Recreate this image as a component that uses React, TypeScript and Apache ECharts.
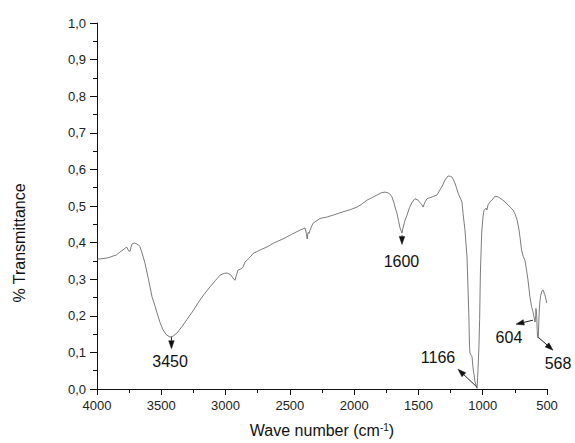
import React, { useEffect, useRef } from "react";
import * as echarts from "echarts";

const wavenumbers = [
  4000, 3960, 3920, 3899, 3870, 3850, 3837, 3815, 3798, 3780, 3767, 3755, 3743, 3735, 3728, 3710, 3689, 3675, 3666, 3650,
  3627, 3600, 3572, 3550, 3533, 3510, 3487, 3460, 3432, 3410, 3378, 3340, 3300, 3250, 3199, 3160, 3121, 3080, 3043, 3010,
  2989, 2960, 2942, 2927, 2915, 2903, 2880, 2864, 2849, 2833, 2800, 2787, 2730, 2678, 2620, 2553, 2490, 2421, 2382, 2372,
  2365, 2359, 2350, 2343, 2320, 2289, 2266, 2210, 2164, 2087, 2030, 1978, 1940, 1900, 1860, 1822, 1790, 1760, 1737, 1720,
  1706, 1690, 1682, 1667, 1655, 1643, 1628, 1620, 1605, 1589, 1570, 1550, 1527, 1503, 1485, 1472, 1464, 1450, 1433, 1394,
  1356, 1332, 1310, 1293, 1270, 1250, 1239, 1216, 1192, 1175, 1161, 1153, 1138, 1122, 1114, 1107, 1103, 1099, 1090, 1083,
  1076, 1060, 1048, 1044, 1037, 1029, 1024, 1018, 1008, 998, 990, 974, 967, 959, 945, 928, 904, 881, 842, 803,
  764, 748, 733, 720, 710, 698, 685, 672, 659, 648, 633, 620, 609, 600, 593, 588, 586, 580, 576, 574,
  568, 564, 560, 555, 549, 541, 535, 529, 522, 516, 508, 502,
];

const transmittance = [
  0.355, 0.356, 0.358, 0.36, 0.364, 0.366, 0.37, 0.376, 0.38, 0.385, 0.387, 0.378, 0.376, 0.388, 0.396, 0.399, 0.396, 0.393, 0.389, 0.372,
  0.344, 0.3, 0.252, 0.228, 0.208, 0.182, 0.162, 0.148, 0.142, 0.144, 0.153, 0.17, 0.19, 0.215, 0.243, 0.262, 0.279, 0.296, 0.311, 0.316,
  0.317, 0.312, 0.303, 0.297, 0.312, 0.325, 0.328, 0.333, 0.347, 0.352, 0.364, 0.37, 0.38, 0.388, 0.4, 0.41, 0.422, 0.434, 0.44, 0.425,
  0.41, 0.428, 0.425, 0.434, 0.453, 0.46, 0.466, 0.47, 0.475, 0.484, 0.49, 0.497, 0.505, 0.516, 0.523, 0.53, 0.536, 0.538, 0.536, 0.532,
  0.525, 0.508, 0.497, 0.48, 0.46, 0.44, 0.426, 0.44, 0.46, 0.475, 0.495, 0.51, 0.52, 0.516, 0.508, 0.503, 0.497, 0.51, 0.52, 0.525,
  0.53, 0.544, 0.558, 0.571, 0.582, 0.581, 0.579, 0.563, 0.536, 0.522, 0.511, 0.48, 0.434, 0.36, 0.27, 0.19, 0.12, 0.098, 0.092, 0.088,
  0.06, 0.02, 0.005, 0.002, 0.05, 0.12, 0.19, 0.317, 0.426, 0.47, 0.488, 0.494, 0.489, 0.503, 0.51, 0.516, 0.527, 0.525, 0.516, 0.503,
  0.489, 0.478, 0.462, 0.44, 0.415, 0.38, 0.362, 0.352, 0.325, 0.298, 0.252, 0.225, 0.211, 0.195, 0.183, 0.2, 0.22, 0.2, 0.16, 0.143,
  0.139, 0.18, 0.216, 0.24, 0.255, 0.266, 0.27, 0.27, 0.262, 0.257, 0.245, 0.235,
];

const xTicks = [4000, 3500, 3000, 2500, 2000, 1500, 1000, 500];

// annotation labels and their anchor / arrow end / label positions in data units
const peakLabels = ["3450", "1600", "1166", "604", "568"];
const arrowFrom = [
  [3421, 0.142],
  [1628, 0.42],
  [1044, 0.005],
  [609, 0.188],
  [570, 0.142],
];
const arrowTo = [
  [3421, 0.11],
  [1628, 0.395],
  [1192, 0.054],
  [741, 0.177],
  [453, 0.106],
];
const labelAt = [
  [3432, 0.074],
  [1632, 0.349],
  [1348, 0.087],
  [796, 0.142],
  [414, 0.069],
];

const FONT = "Liberation Sans, Arial, sans-serif";

export default function App() {
  const ref = useRef<HTMLDivElement>(null);

  useEffect(() => {
    if (!ref.current) return;
    const chart = echarts.init(ref.current, null, { renderer: "svg" });
    const data = wavenumbers.map((w, i) => [w, transmittance[i]]);
    chart.setOption({
      animation: false,
      backgroundColor: "#ffffff",
      grid: { left: 97, right: 28, top: 23, bottom: 53 },
      xAxis: {
        type: "value",
        min: xTicks[xTicks.length - 1],
        max: xTicks[0],
        interval: 500,
        inverse: true,
        name: "Wave number (cm{sup|-1})",
        nameLocation: "middle",
        nameGap: 33,
        nameTextStyle: {
          fontSize: 16,
          color: "#111",
          fontFamily: FONT,
          rich: {
            sup: { fontSize: 10, verticalAlign: "top", lineHeight: 10, color: "#111", fontFamily: FONT },
          },
        },
        axisLine: { show: true, lineStyle: { color: "#111", width: 1 } },
        axisTick: { show: true, inside: false, length: 6, lineStyle: { color: "#111" } },
        minorTick: { show: true, splitNumber: 2, length: 4, lineStyle: { color: "#111" } },
        axisLabel: {
          fontSize: 13,
          color: "#222",
          fontFamily: FONT,
          margin: 10,
          formatter: (v: number) => String(v),
        },
        splitLine: { show: false },
        minorSplitLine: { show: false },
      },
      yAxis: {
        type: "value",
        min: 0,
        max: 1,
        interval: 0.1,
        axisLine: { show: true, lineStyle: { color: "#111", width: 1 } },
        axisTick: { show: true, inside: false, length: 7, lineStyle: { color: "#111" } },
        minorTick: { show: true, splitNumber: 2, length: 4, lineStyle: { color: "#111" } },
        axisLabel: {
          fontSize: 13,
          color: "#222",
          fontFamily: FONT,
          margin: 11,
          formatter: (v: number) => v.toFixed(1).replace(".", ","),
        },
        splitLine: { show: false },
        minorSplitLine: { show: false },
      },
      series: [
        {
          type: "line",
          data,
          showSymbol: false,
          symbol: "none",
          clip: false,
          lineStyle: { color: "#5a5a5a", width: 0.8 },
        },
      ],
    });

    const toPx = (p: number[]) => chart.convertToPixel({ gridIndex: 0 }, p) as number[];
    const graphics: any[] = [];
    peakLabels.forEach((lab, i) => {
      const p1 = toPx(arrowFrom[i]);
      const p2 = toPx(arrowTo[i]);
      const dx = p2[0] - p1[0];
      const dy = p2[1] - p1[1];
      const len = Math.sqrt(dx * dx + dy * dy) || 1;
      const ux = dx / len;
      const uy = dy / len;
      const headL = 8;
      const headW = 5.5;
      const bx = p2[0] - ux * headL;
      const by = p2[1] - uy * headL;
      const nx = -uy;
      const ny = ux;
      graphics.push({
        type: "line",
        shape: { x1: p1[0], y1: p1[1], x2: bx, y2: by },
        style: { stroke: "#222", lineWidth: 1 },
        silent: true,
      });
      graphics.push({
        type: "polygon",
        shape: {
          points: [
            [p2[0], p2[1]],
            [bx + (nx * headW) / 2, by + (ny * headW) / 2],
            [bx - (nx * headW) / 2, by - (ny * headW) / 2],
          ],
        },
        style: { fill: "#111", stroke: "#111", lineWidth: 0.5 },
        silent: true,
      });
      const lp = toPx(labelAt[i]);
      graphics.push({
        type: "text",
        x: lp[0],
        y: lp[1],
        style: {
          text: lab,
          fontSize: 16,
          fontFamily: FONT,
          fill: "#111",
          align: "center",
          verticalAlign: "middle",
        },
        silent: true,
      });
    });
    graphics.push({
      type: "text",
      x: 19,
      y: 243,
      rotation: Math.PI / 2,
      style: {
        text: "% Transmittance",
        fontSize: 16,
        fontFamily: FONT,
        fill: "#111",
        align: "center",
        verticalAlign: "middle",
      },
      silent: true,
    });
    chart.setOption({ graphic: graphics });

    return () => chart.dispose();
  }, []);

  return (
    <div
      ref={ref}
      style={{ position: "fixed", left: 0, top: 0, width: 575, height: 443, background: "#fff" }}
    />
  );
}
